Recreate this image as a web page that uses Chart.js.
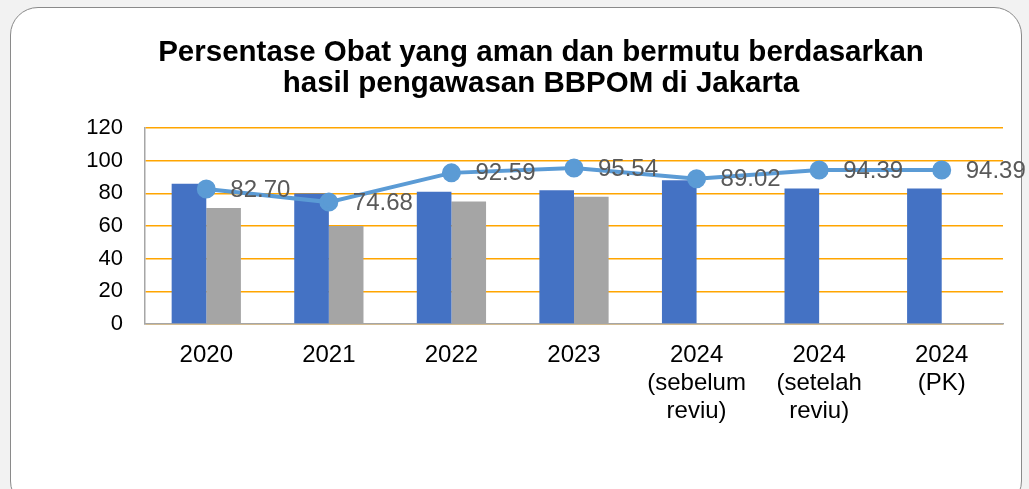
<!DOCTYPE html>
<html>
<head>
<meta charset="utf-8">
<script src="https://cdn.jsdelivr.net/npm/chart.js@4.4.0/dist/chart.umd.min.js"></script>
<style>
  html, body { margin: 0; padding: 0; }
  body { width: 1029px; height: 489px; background: #f2f2f2; position: relative; overflow: hidden; font-family: "Liberation Sans", Arial, sans-serif; }
  .card { position: absolute; left: 10px; top: 7px; width: 1010px; height: 500px; background: #fff; border: 1.5px solid #8a8a8a; border-radius: 28px; }
  #wrap { position: absolute; left: 0; top: 0; width: 1029px; height: 489px; }
</style>
</head>
<body>
<div class="card"></div>
<div id="wrap"><canvas id="myChart" width="1029" height="489"></canvas></div>
<script>
// chart data
const categories = [
  ['2020'], ['2021'], ['2022'], ['2023'],
  ['2024', '(sebelum', 'reviu)'],
  ['2024', '(setelah', 'reviu)'],
  ['2024', '(PK)']
]
const blueBars = [86, 80, 81, 82, 88, 83, 83]
const grayBars = [71, 60, 75, 78, null, null, null]
const lineValues = [82.70, 74.68, 92.59, 95.54, 89.02, 94.39, 94.39]
const yTicks = [0, 20, 40, 60, 80, 100, 120]

const fontFam = '"Liberation Sans", Arial, sans-serif'

// value labels to the right of the line points
const pointLabels = {
  id: 'pointLabels',
  afterDatasetsDraw(chart) {
    const meta = chart.getDatasetMeta(0)
    const ctx = chart.ctx
    ctx.save()
    ctx.font = '24px ' + fontFam
    ctx.fillStyle = '#595959'
    ctx.textAlign = 'left'
    ctx.textBaseline = 'middle'
    meta.data.forEach((pt, i) => {
      ctx.fillText(lineValues[i].toFixed(2), pt.x + 24, pt.y + 1)
    })
    ctx.restore()
  }
}

const ctx = document.getElementById('myChart').getContext('2d')
const myChart = new Chart(ctx, {
  type: 'bar',
  data: {
    labels: categories,
    datasets: [
      {
        type: 'line',
        label: 'Capaian',
        data: lineValues,
        borderColor: '#5B9BD5',
        backgroundColor: '#5B9BD5',
        borderWidth: 4,
        pointRadius: 7.5,
        pointHoverRadius: 7.5,
        tension: 0,
        order: 0
      },
      {
        label: 'Target',
        data: blueBars,
        backgroundColor: '#4472C4',
        order: 1
      },
      {
        label: 'Realisasi',
        data: grayBars,
        backgroundColor: '#A5A5A5',
        order: 1
      }
    ]
  },
  options: {
    responsive: false,
    animation: false,
    datasets: {
      bar: { categoryPercentage: 0.565, barPercentage: 1 }
    },
    layout: { padding: { left: 79, right: 26, top: 20, bottom: 25 } },
    plugins: {
      legend: { display: false },
      tooltip: { enabled: false },
      title: {
        display: true,
        text: ['Persentase Obat yang aman dan bermutu berdasarkan', 'hasil pengawasan BBPOM di Jakarta'],
        color: '#000',
        font: { family: fontFam, size: 29.5, weight: 'bold', lineHeight: 1.07 },
        padding: { top: 17, bottom: 28 }
      }
    },
    scales: {
      x: {
        grid: { display: false, drawTicks: false },
        border: { color: '#a6a6a6', width: 1.5 },
        ticks: {
          color: '#000',
          padding: 18,
          maxRotation: 0,
          autoSkip: false,
          font: { family: fontFam, size: 24, lineHeight: 1.15 }
        },
        afterFit(scale) { scale.height = 140 }
      },
      y: {
        min: 0,
        max: 120,
        afterBuildTicks(scale) { scale.ticks = yTicks.map(v => ({ value: v })) },
        grid: { color: '#FFA500', lineWidth: 1.5, drawTicks: false },
        border: { color: '#a6a6a6', width: 1.5 },
        ticks: {
          color: '#000',
          padding: 22,
          font: { family: fontFam, size: 22 }
        },
        afterFit(scale) { scale.width = 66 }
      }
    }
  },
  plugins: [pointLabels]
})
</script>
</body>
</html>
